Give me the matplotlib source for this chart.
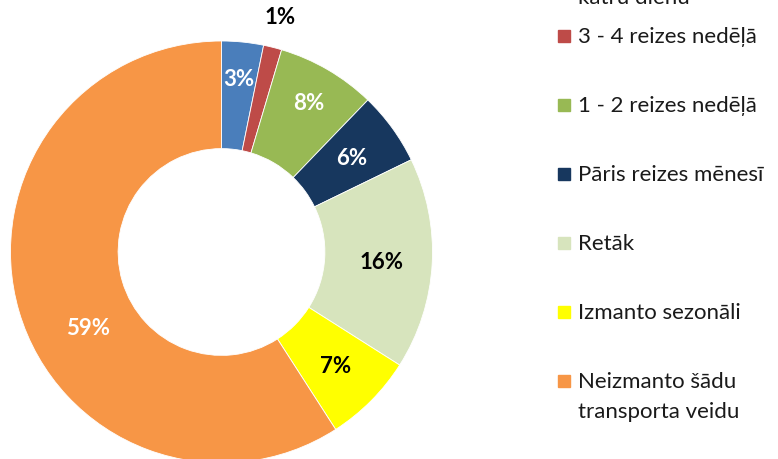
import numpy as np
import matplotlib
matplotlib.use("Agg")
from matplotlib import pyplot as plt
from matplotlib.patches import Rectangle

plt.rcParams['font.family'] = ['Lato', 'DejaVu Sans']

Kategorijas = ["Izmanto\nkatru dienu", "3 - 4 reizes nedēļā", "1 - 2 reizes nedēļā",
               "Pāris reizes mēnesī", "Retāk", "Izmanto sezonāli",
               "Neizmanto šādu\ntransporta veidu"]
Vertibas = [3.2, 1.4, 7.6, 5.6, 16.2, 6.9, 59.1]
Etiketes = ["3%", "1%", "8%", "6%", "16%", "7%", "59%"]
Krasas = ["#4A7EBB", "#BE4B48", "#98B954", "#17375E", "#D7E4BD", "#FFFF00", "#F79646"]
TekstaKrasas = ["white", "black", "white", "white", "black", "black", "white"]

W, H = 778, 460
fig = plt.figure(figsize=(W / 100, H / 100), dpi=100)

# donut: centre (221.5, 253 from top), radius 211 px
cx, cy, R = 221.5, H - 253, 211
ax = fig.add_axes([(cx - R) / W, (cy - R) / H, 2 * R / W, 2 * R / H])
wedges, _ = ax.pie(Vertibas, colors=Krasas, startangle=90, counterclock=False,
                   radius=1, wedgeprops=dict(width=0.51, edgecolor="white", linewidth=0.6))
ax.set_xlim(-1, 1)
ax.set_ylim(-1, 1)
ax.set_aspect("equal")
ax.axis("off")

# label radius / angle tweaks like in the original
rad = {0: 0.825, 1: 1.15, 2: 0.82, 6: 0.725}
dang = {6: 13}
for i, w in enumerate(wedges):
    mid = (w.theta1 + w.theta2) / 2 + dang.get(i, 0)
    r = rad.get(i, 0.76)
    ax.text(r * np.cos(np.radians(mid)), r * np.sin(np.radians(mid)), Etiketes[i],
            ha="center", va="center", fontsize=16, fontweight="bold",
            color=TekstaKrasas[i], clip_on=False)

# legend drawn by hand (first entry is cut off at the top)
for i, (lab, col) in enumerate(zip(Kategorijas, Krasas)):
    y = 37 + (i - 1) * 69
    fig.patches.append(Rectangle((558 / W, (H - y - 6) / H), 12 / W, 12 / H,
                                 transform=fig.transFigure, color=col, figure=fig))
    lines = lab.split("\n")
    for k, t in enumerate(lines):
        fig.text(578 / W, (H - y - 30 * k) / H, t, ha="left", va="center",
                 fontsize=16, color="#1a1a1a")

plt.savefig("out.png", dpi=100)
